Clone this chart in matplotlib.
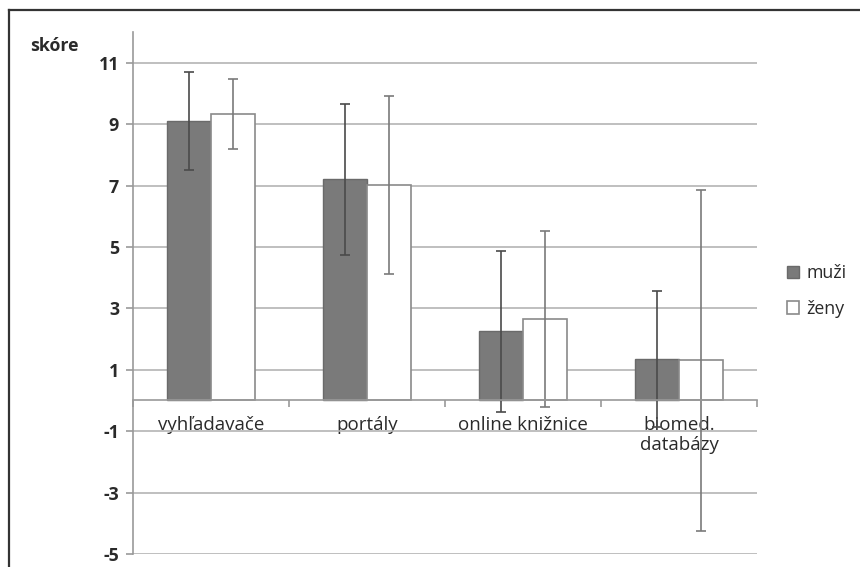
import numpy as np
import matplotlib.pyplot as plt
import matplotlib.lines as mlines

# data
categories = ["vyhľadavače", "portály", "online knižnice", "biomed.\ndatabázy"]
muzi = [9.1, 7.2, 2.25, 1.35]
muzi_err = [1.6, 2.45, 2.63, 2.22]
zeny = [9.33, 7.03, 2.66, 1.31]
zeny_err = [1.13, 2.9, 2.86, 5.55]
yticks = [-5, -3, -1, 1, 3, 5, 7, 9, 11]

plt.rcParams['font.family'] = ['Open Sans', 'DejaVu Sans']
fs = 12.8
fs_x = 13.5
txt_c = "#2a2a2a"

fig = plt.figure(figsize=(8.6, 5.67), dpi=100)
ax = fig.add_axes([133/860, 1-554/567, (757-133)/860, (554-32)/567])

x = np.arange(len(categories))
w = 0.282
grid_c = "#b4b4b4"

ax.bar(x - w/2, muzi, w, color="#7a7a7a", edgecolor="#6a6a6a", linewidth=1,
       label="muži", zorder=3)
ax.bar(x + w/2, zeny, w, color="white", edgecolor="#8a8a8a", linewidth=1.2,
       label="ženy", zorder=3)
ax.errorbar(x - w/2, muzi, yerr=muzi_err, fmt="none", ecolor="#4a4a4a",
            elinewidth=1.2, capsize=3.5, capthick=1.2, zorder=4)
ax.errorbar(x + w/2, zeny, yerr=zeny_err, fmt="none", ecolor="#7a7a7a",
            elinewidth=1.2, capsize=3.5, capthick=1.2, zorder=4)

ax.set_xlim(-0.5, 3.5)
ax.set_ylim(-5, 12)
ax.set_yticks(yticks)
ax.set_yticklabels([str(t) for t in yticks], fontsize=fs, fontweight="bold",
                   color=txt_c)
ax.yaxis.grid(True, color=grid_c, linewidth=1.2, zorder=0)
ax.tick_params(axis="y", length=5, width=1.2, color="#999999", pad=5)

ax.spines["top"].set_visible(False)
ax.spines["right"].set_visible(False)
ax.spines["left"].set_color("#999999")
ax.spines["left"].set_linewidth(1.2)
ax.spines["bottom"].set_position(("data", 0))
ax.spines["bottom"].set_color("#999999")
ax.spines["bottom"].set_linewidth(1.2)
ax.spines["bottom"].set_zorder(5)

ax.set_xticks(x)
ax.set_xticklabels(categories, fontsize=fs_x, color=txt_c, linespacing=1.15)
ax.set_xticks(np.arange(-0.5, 4, 1), minor=True)
ax.tick_params(axis="x", which="major", length=0, pad=11)
ax.tick_params(axis="x", which="minor", length=5, width=1.2, color="#999999",
               direction="out")

fig.text(30/860, 1-46/567, "skóre", fontsize=fs, fontweight="bold",
         color=txt_c, va="center", ha="left")

leg = ax.legend(loc="center left", bbox_to_anchor=(778/860, 1-291/567),
                bbox_transform=fig.transFigure, frameon=False, fontsize=fs,
                handlelength=0.7, handleheight=0.7, handletextpad=0.4,
                labelspacing=1.0, borderpad=0)
for t in leg.get_texts():
    t.set_color(txt_c)

# outer frame (top and left edge visible in the source)
fig.add_artist(mlines.Line2D([9/860, 1], [1-10/567, 1-10/567],
                             transform=fig.transFigure, color="#333333", lw=1.6))
fig.add_artist(mlines.Line2D([9/860, 9/860], [0, 1-10/567],
                             transform=fig.transFigure, color="#333333", lw=1.6))

fig.savefig("out.png", dpi=100)
